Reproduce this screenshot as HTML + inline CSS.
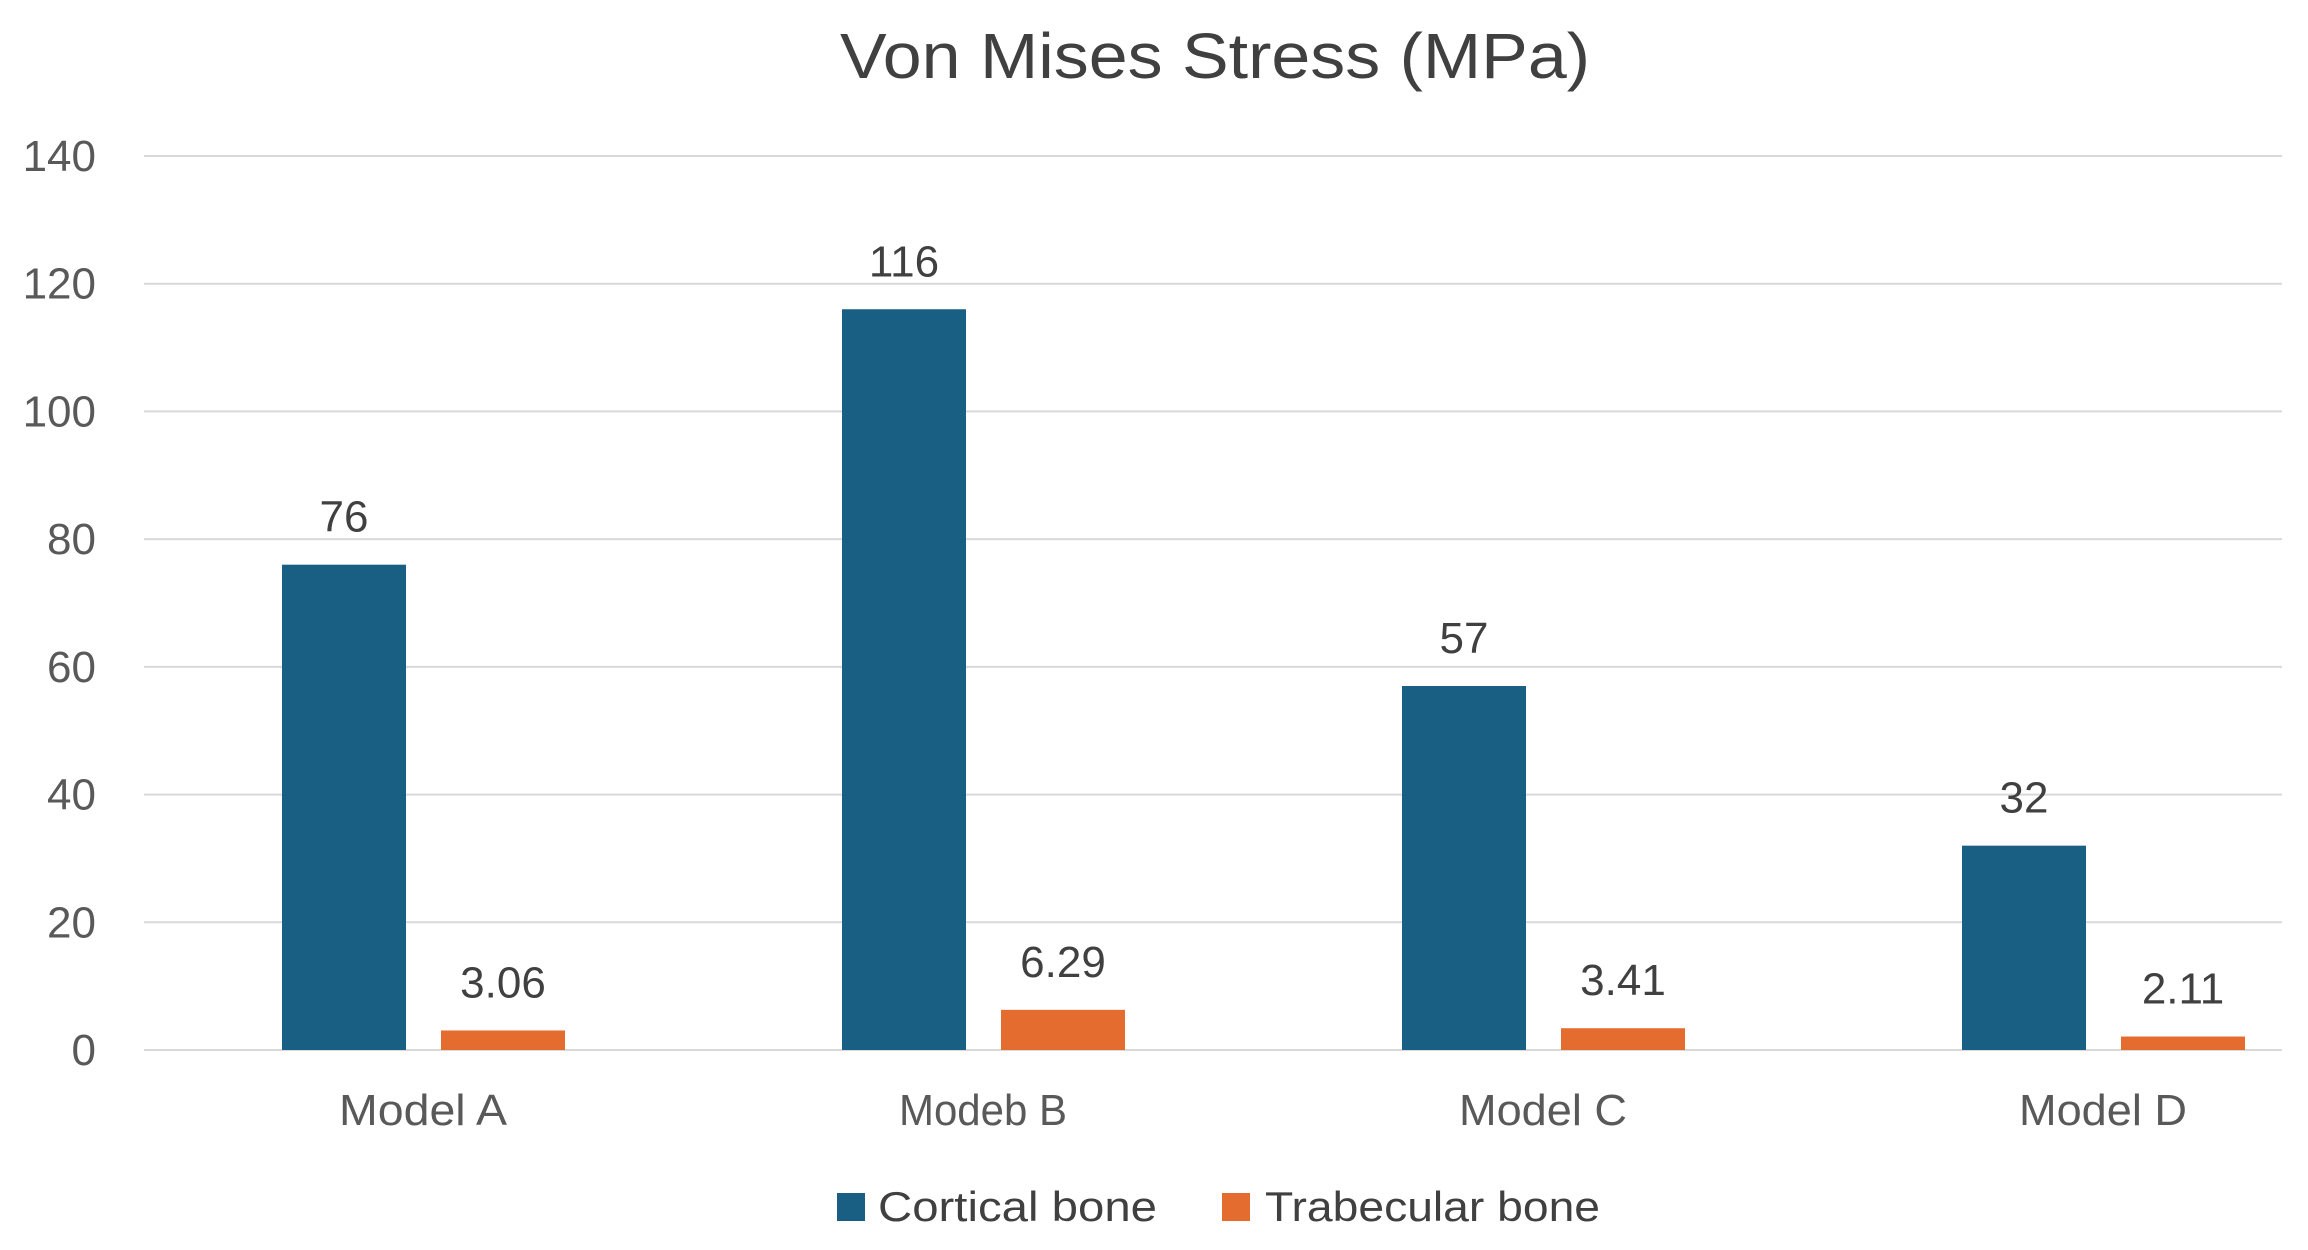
<!DOCTYPE html>
<html><head><meta charset="utf-8"><style>
html,body{margin:0;padding:0;background:#fff;width:2308px;height:1250px;overflow:hidden}
svg{display:block;font-family:"Liberation Sans",sans-serif}
</style></head><body>
<svg id="chart" width="2308" height="1250">
<text x="1215" y="78" font-size="64" fill="#404040" text-anchor="middle" textLength="750" lengthAdjust="spacingAndGlyphs">Von Mises Stress (MPa)</text>
<g id="grid"></g><g id="bars"></g><g id="labels"></g>
<g>
<rect x="837" y="1193" width="28" height="28" fill="#195e83"/>
<text x="878" y="1221" font-size="42" fill="#404040" textLength="279" lengthAdjust="spacingAndGlyphs">Cortical bone</text>
<rect x="1222" y="1193" width="28" height="28" fill="#e46c2e"/>
<text x="1265" y="1221" font-size="42" fill="#404040" textLength="335" lengthAdjust="spacingAndGlyphs">Trabecular bone</text>
</g>
</svg>
<script>
const categories = ["Model A", "Modeb B", "Model C", "Model D"];
const cortical = [76, 116, 57, 32];
const trabecular = [3.06, 6.29, 3.41, 2.11];
const ticks = [0, 20, 40, 60, 80, 100, 120, 140];
const NS = "http://www.w3.org/2000/svg";
const y0 = 1050, yTop = 156, yMax = 140;
const y = v => y0 - v * (y0 - yTop) / yMax;
const xc = i => 423 + i * 560;
function mk(tag, attrs, parent, txt) {
  const e = document.createElementNS(NS, tag);
  for (const k in attrs) e.setAttribute(k, attrs[k]);
  if (txt !== undefined) e.textContent = txt;
  parent.appendChild(e);
  return e;
}
const grid = document.getElementById('grid');
const bars = document.getElementById('bars');
const labels = document.getElementById('labels');
ticks.forEach(t => {
  const l = mk('line', {x1: 144, x2: 2282, y1: y(t), y2: y(t), stroke: '#d9d9d9', 'stroke-width': 2}, grid);
  
  
  const tx = mk('text', {x: 96, y: y(t) + 15, 'font-size': 44, fill: '#595959', 'text-anchor': 'end'}, grid, String(t));
  
  
});
categories.forEach((c, i) => {
  const cx = xc(i);
  const b1 = mk('rect', {x: cx - 141, y: y(cortical[i]), width: 124, height: y0 - y(cortical[i]), fill: '#195e83'}, bars);
  
  
  const b2 = mk('rect', {x: cx + 18, y: y(trabecular[i]), width: 124, height: y0 - y(trabecular[i]), fill: '#e46c2e'}, bars);
  
  
  const l1 = mk('text', {x: cx - 79, y: y(cortical[i]) - 33, 'font-size': 44, fill: '#404040', 'text-anchor': 'middle'}, labels, String(cortical[i]));
  
  
  const l2 = mk('text', {x: cx + 80, y: y(trabecular[i]) - 33, 'font-size': 44, fill: '#404040', 'text-anchor': 'middle'}, labels, trabecular[i].toFixed(2));
  
  
  const cl = mk('text', {x: cx, y: 1125, 'font-size': 44, fill: '#595959', 'text-anchor': 'middle', textLength: 168, lengthAdjust: 'spacingAndGlyphs'}, labels, c);
  
  
});
</script>
</body></html>
